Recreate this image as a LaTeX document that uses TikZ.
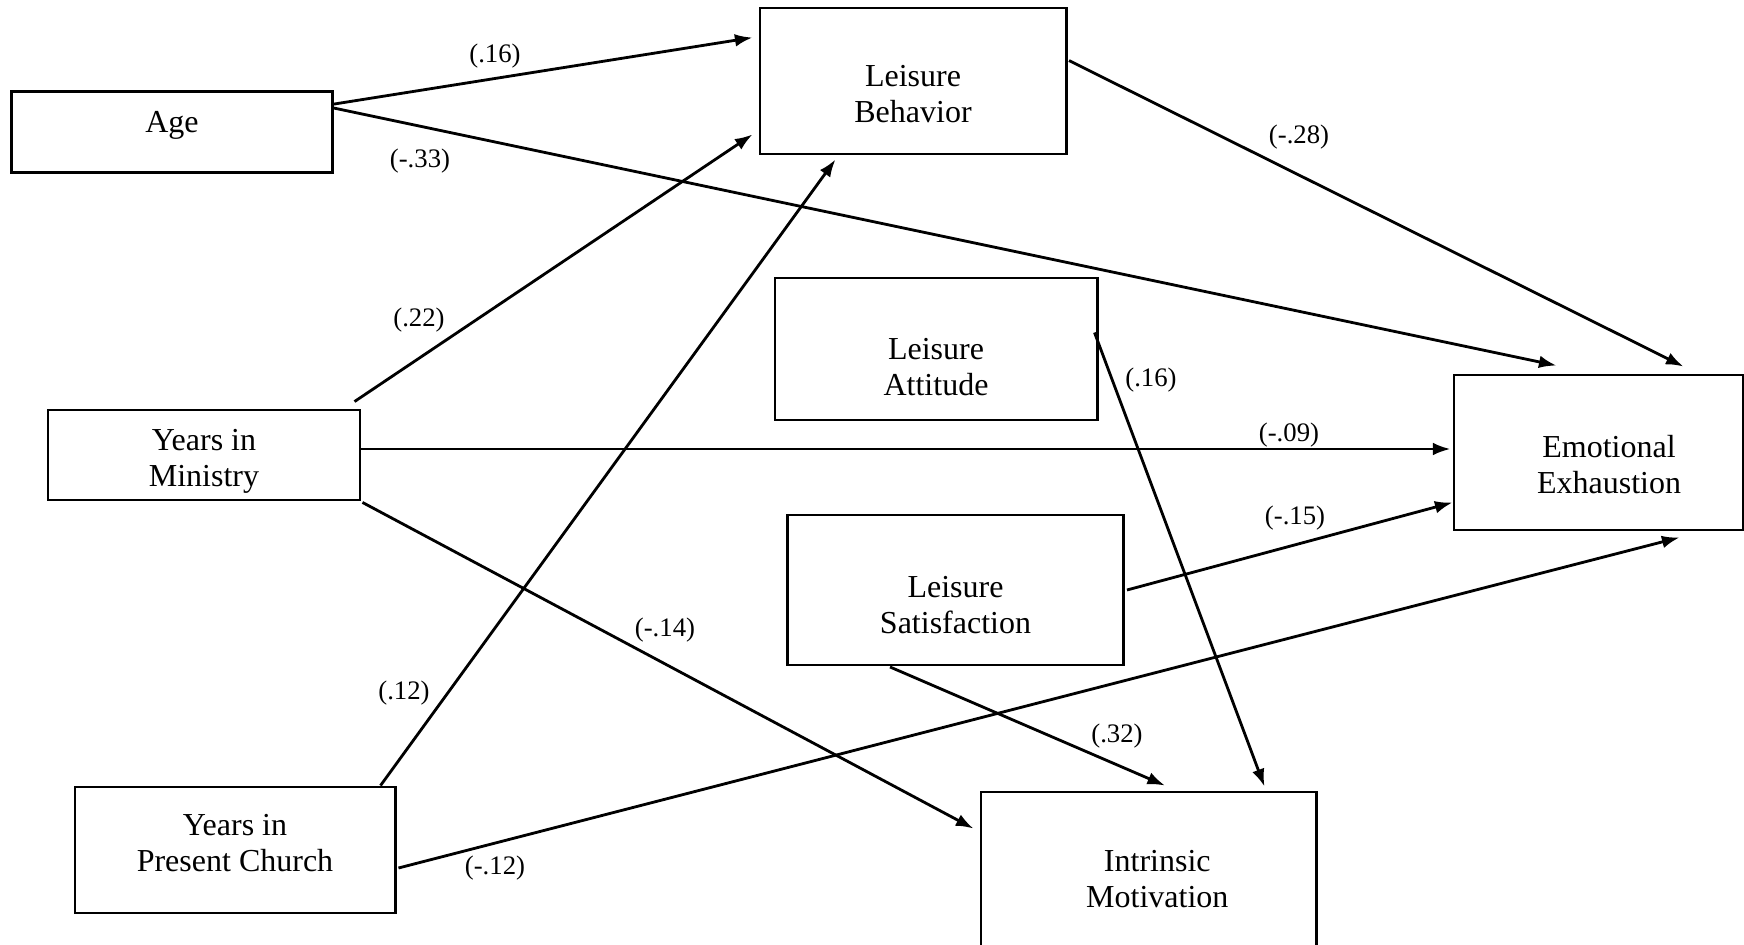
\documentclass[tikz,border=0pt]{standalone}
\usepackage{fontspec}
\setmainfont{Liberation Serif}
\usepackage{tikz}
\usetikzlibrary{arrows.meta,calc}

\begin{document}
\begin{tikzpicture}[
    x=0.01cm, y=-0.01cm,
    box/.style={draw, line width=0.8pt, inner sep=0pt, align=center, text depth=0pt, font=\fontsize{9.1}{10.2}\selectfont},
    coef/.style={inner sep=1pt, font=\fontsize{7.6}{9}\selectfont},
    arrow/.style={-{Latex[length=5pt,width=3.6pt]}, line width=0.8pt}
  ]
    \useasboundingbox (0,0) rectangle (1744,945);
    \clip (0,0) rectangle (1744,945);

    \node[box, minimum width=3.21cm, minimum height=0.81cm, text height=6pt, text depth=5.8pt] (age) at (172,132) {Age};
    \node[box, minimum width=3.06cm, minimum height=1.46cm, text height=23.4pt] (lb) at (913,81) {Leisure\\Behavior};
    \node[box, minimum width=3.22cm, minimum height=1.42cm, text height=26.6pt] (la) at (936,349) {Leisure\\Attitude};
    \node[box, minimum width=2.89cm, minimum height=1.55cm, text height=23.4pt] (ee) at (1598.5,452.5) {\hspace*{6pt}Emotional\\\hspace*{6pt}Exhaustion};
    \node[box, minimum width=3.12cm, minimum height=0.90cm, text height=17.8pt] (ym) at (204,455) {Years in\\Ministry};
    \node[box, minimum width=3.36cm, minimum height=1.50cm, text height=24.8pt] (ls) at (955.5,590) {Leisure\\Satisfaction};
    \node[box, minimum width=3.20cm, minimum height=1.26cm, text height=12.2pt] (ypc) at (235,850) {Years in\\Present Church};
    \node[box, minimum width=3.35cm, minimum height=1.72cm, text height=16.6pt] (im) at (1148.5,878) {\hspace*{5pt}Intrinsic\\\hspace*{5pt}Motivation};

    \draw[arrow] ($(age.north east)+(0,14)$) -- ($(lb.north west)+(-6,31)$);
    \draw[arrow] ($(age.north east)+(0,18)$) -- ($(ee.north west)+(104,-8)$);
    \draw[arrow] ($(ym.north east)+(-7,-7)$) -- ($(lb.south west)+(-6,-21)$);
    \draw[arrow] ($(ym.east)+(0,-6)$) -- ($(ee.west)+(-2,-3.5)$);
    \draw[arrow] ($(ym.south east)+(1,1)$) -- ($(im.north west)+(-6,38)$);
    \draw[arrow] ($(ypc.north east)+(-16,0)$) -- ($(lb.south west)+(77,4)$);
    \draw[arrow] ($(ypc.east)+(2,18)$) -- ($(ee.south west)+(227,6)$);
    \draw[arrow] ($(lb.north east)+(1.5,54)$) -- ($(ee.north west)+(231,-7)$);
    \draw[arrow] ($(la.north east)+(-4,56)$) -- ($(im.north west)+(285,-4)$);
    \draw[arrow] ($(ls.east)+(2,0)$) -- ($(ee.west)+(0,50)$);
    \draw[arrow] ($(ls.south west)+(104,0.5)$) -- ($(im.north west)+(185.5,-5)$);

    % path coefficients
    \node[coef] (c-age-lb) at (495,56) {(.16)};
    \node[coef] (c-age-ee) at (420,161) {(-.33)};
    \node[coef] (c-ym-lb) at (419,320) {(.22)};
    \node[coef] (c-ym-ee) at (1289,435) {(-.09)};
    \node[coef] (c-ym-im) at (665,630) {(-.14)};
    \node[coef] (c-ypc-lb) at (404,693) {(.12)};
    \node[coef] (c-ypc-ee) at (495,868) {(-.12)};
    \node[coef] (c-lb-ee) at (1299,137) {(-.28)};
    \node[coef] (c-la-im) at (1151,380) {(.16)};
    \node[coef] (c-ls-ee) at (1295,518) {(-.15)};
    \node[coef] (c-ls-im) at (1117,736) {(.32)};
  \end{tikzpicture}
\end{document}
